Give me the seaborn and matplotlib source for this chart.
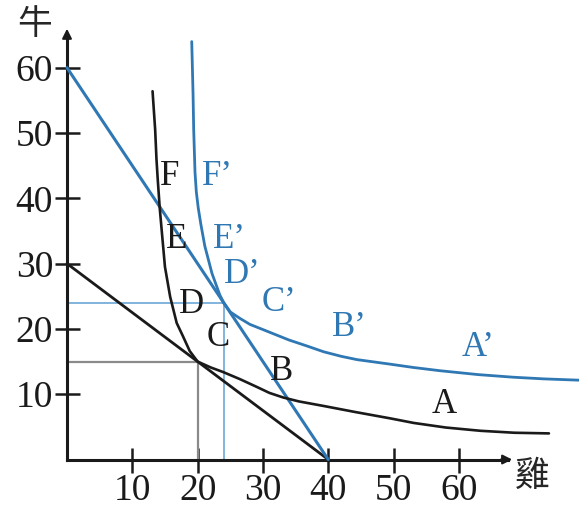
import matplotlib
matplotlib.use("Agg")
import matplotlib.pyplot as plt
import pandas as pd
import seaborn as sns

sns.set_theme(style="white")
plt.rcParams["font.family"] = ["Liberation Serif", "Noto Sans CJK TC"]

# Budget lines (雞 on x, 牛 on y)
budget_old_x = [0, 40]
budget_old_y = [30, 0]
budget_new_x = [0, 40]
budget_new_y = [60, 0]

# Indifference curve through the original optimum (20, 15)
ic_old_x = [13.1, 13.5, 13.7, 13.9, 14.2, 14.5, 15.0, 15.8, 16.8, 17.7, 18.8, 20.0,
            22.0, 23.9, 26.5, 29.1, 31.0, 33.1, 35.5, 39.3, 44.0, 49.5, 53.1, 58.0,
            63.3, 68.5, 73.8]
ic_old_y = [56.4, 50.5, 46.0, 42.8, 38.5, 35.1, 29.5, 24.9, 20.9, 19.0, 16.6, 15.0,
            14.1, 13.4, 12.3, 11.1, 10.2, 9.5, 8.9, 8.2, 7.3, 6.3, 5.6, 4.9,
            4.4, 4.1, 4.0]

# Indifference curve through the new optimum (24, 24)
ic_new_x = [19.1, 19.3, 19.4, 19.6, 19.8, 20.1, 20.5, 21.1, 22.2, 23.4, 24.0, 25.0,
            26.5, 28.0, 30.0, 32.0, 34.0, 36.7, 39.3, 42.0, 44.4, 49.5, 53.0, 57.1,
            63.0, 68.4, 73.0, 78.4]
ic_new_y = [64.0, 56.0, 50.5, 44.0, 41.0, 38.5, 36.0, 32.7, 28.5, 25.2, 24.0, 22.6,
            21.6, 20.7, 19.9, 19.1, 18.3, 17.4, 16.5, 15.8, 15.3, 14.6, 14.1, 13.6,
            13.0, 12.6, 12.35, 12.15]

# Optimum bundles
opt_old = (20, 15)
opt_new = (24, 24)

# Point labels along the curves
pt_old_labels = ["F", "E", "D", "C", "B", "A"]
pt_old_x = [15.7, 16.8, 19.0, 23.1, 32.8, 57.7]
pt_old_y = [43.3, 33.7, 23.7, 18.7, 13.5, 8.4]
pt_new_labels = ["F’", "E’", "D’", "C’", "B’", "A’"]
pt_new_x = [23.0, 24.9, 26.9, 32.5, 43.2, 63.0]
pt_new_y = [43.3, 33.7, 28.3, 24.0, 20.2, 17.2]

x_ticks = [10, 20, 30, 40, 50, 60]
y_ticks = [10, 20, 30, 40, 50, 60]

BLUE = "#2f78b4"
LIGHT_BLUE = "#5f9fd2"
BLACK = "#1a1a1a"
GREY = "#8a8a8a"

fig = plt.figure(figsize=(5.79, 5.13), dpi=100)
ax = fig.add_axes([0, 0, 1, 1])
ax.set_xlim(-10.26, 78.4)
ax.set_ylim(-8.19, 70.37)

# Guide lines to the optimum bundles
ax.plot([0, opt_old[0], opt_old[0]], [opt_old[1], opt_old[1], 0], color=GREY, lw=1.6, zorder=1)
ax.plot([0, opt_new[0], opt_new[0]], [opt_new[1], opt_new[1], 0], color=LIGHT_BLUE, lw=1.1, zorder=1)

def draw(xs, ys, color, lw):
    df = pd.DataFrame({"x": xs, "y": ys})
    sns.lineplot(data=df, x="x", y="y", sort=False, estimator=None, color=color,
                 lw=lw, ax=ax, zorder=3, solid_joinstyle="round", solid_capstyle="round")

draw(budget_old_x, budget_old_y, BLACK, 2.0)
draw(budget_new_x, budget_new_y, BLUE, 2.2)
draw(ic_old_x, ic_old_y, BLACK, 1.9)
draw(ic_new_x, ic_new_y, BLUE, 2.0)

for lab, x, y in zip(pt_old_labels, pt_old_x, pt_old_y):
    ax.text(x, y, lab, fontsize=25, color=BLACK, ha="center", va="center", zorder=4)
for lab, x, y in zip(pt_new_labels, pt_new_x, pt_new_y):
    ax.text(x, y, lab, fontsize=25, color=BLUE, ha="center", va="center", zorder=4)

# Axes through the origin with arrowheads
for side in ["top", "right"]:
    ax.spines[side].set_visible(False)
ax.spines["left"].set_position(("data", 0))
ax.spines["bottom"].set_position(("data", 0))
ax.spines["left"].set_bounds(0, 65.0)
ax.spines["bottom"].set_bounds(0, 67.5)
for side in ["left", "bottom"]:
    ax.spines[side].set_color(BLACK)
    ax.spines[side].set_linewidth(2.2)
ax.annotate("", xy=(0, 66.4), xytext=(0, 64.0),
            arrowprops=dict(arrowstyle="-|>", color=BLACK, lw=1.5, mutation_scale=14))
ax.annotate("", xy=(68.6, 0), xytext=(66.0, 0),
            arrowprops=dict(arrowstyle="-|>", color=BLACK, lw=1.5, mutation_scale=14))

ax.set_xticks(x_ticks)
ax.set_yticks(y_ticks)
ax.tick_params(axis="both", which="major", bottom=True, left=True, direction="inout",
               length=18, width=1.8, color=BLACK, labelsize=27, labelcolor=BLACK, pad=1)
ax.set_xlabel("")
ax.set_ylabel("")
ax.grid(False)

ax.text(-4.9, 66.6, "牛", fontsize=25, family=["Noto Sans CJK TC"], ha="center", va="center")
ax.text(71.2, -2.6, "雞", fontsize=25, family=["Noto Sans CJK TC"], ha="center", va="center")

fig.savefig("out.png", dpi=100)
